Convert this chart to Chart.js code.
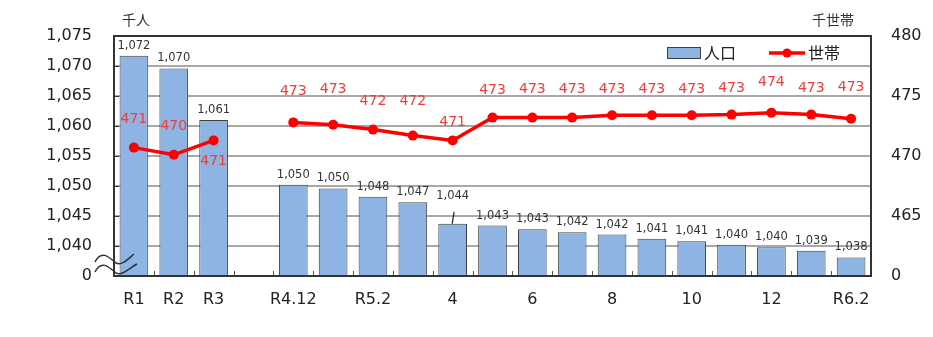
<!DOCTYPE html>
<html>
<head>
<meta charset="utf-8">
<script src="https://cdn.jsdelivr.net/npm/chart.js@4"></script>
<style>
  html, body { margin: 0; padding: 0; background: #fff; }
  canvas { display: block; }
</style>
</head>
<body>
<canvas id="popChart" width="933" height="337"></canvas>
<script>
// --- DATA ---
const categories = ['R1', 'R2', 'R3', '', 'R4.12', 'R5.1', 'R5.2', 'R5.3', 'R5.4', 'R5.5', 'R5.6',
  'R5.7', 'R5.8', 'R5.9', 'R5.10', 'R5.11', 'R5.12', 'R6.1', 'R6.2'];
const tickLabels = ['R1', 'R2', 'R3', '', 'R4.12', '', 'R5.2', '', '4', '', '6', '', '8', '', '10',
  '', '12', '', 'R6.2'];
// 人口 (千人)
const population = [1071.7, 1069.6, 1061.0, null, 1050.2, 1049.6, 1048.2, 1047.3, 1043.7, 1043.4,
  1042.8, 1042.3, 1041.9, 1041.2, 1040.8, 1040.2, 1039.8, 1039.2, 1038.1];
// 世帯 (千世帯)
const households = [470.7, 470.1, 471.3, null, 472.8, 472.6, 472.2, 471.7, 471.3, 473.2, 473.2,
  473.2, 473.4, 473.4, 473.4, 473.45, 473.6, 473.45, 473.1];

// --- STYLE ---
const BAR_FILL = '#8db4e2';
const BAR_EDGE = '#404040';
const LINE_RED = '#ff0000';
const LABEL_RED = '#f03c3c';
const FRAME = '#333333';
const FONT = '"DejaVu Sans", Verdana, sans-serif';
const CJK = '"Noto Sans CJK JP", sans-serif';

// how far (px) each household label sits above its point; negative = below
const lineLabelLift = [28, 28, -21, 0, 31, 35, 28, 34, 18, 27, 28, 28, 26, 26, 26, 26, 30, 26, 31];
// the 1,044 label is pulled up and tied to its bar with a short leader
const leaderIndex = 8;

const fmt = v => Math.round(v).toLocaleString('en-US');

// --- DECORATIONS: frame, ticks, break marks, labels, legend ---
const decorations = {
  id: 'decorations',
  afterDatasetsDraw(chart) {
    const ctx = chart.ctx;
    const { left, right, top, bottom } = chart.chartArea;
    const x = chart.scales.x;
    const y = chart.scales.y;
    const y1 = chart.scales.y1;
    ctx.save();

    // small ticks along the bottom at category boundaries
    ctx.strokeStyle = '#555';
    ctx.lineWidth = 1;
    const step = (right - left) / categories.length;
    for (let i = 1; i < categories.length; i++) {
      const bx = Math.round(left + i * step) + 0.5;
      ctx.beginPath();
      ctx.moveTo(bx, bottom);
      ctx.lineTo(bx, bottom - 5);
      ctx.stroke();
    }
    // inward ticks on the left axis
    ctx.strokeStyle = FRAME;
    for (let v = 1040; v <= 1070; v += 5) {
      const ty = Math.round(y.getPixelForValue(v)) + 0.5;
      ctx.beginPath();
      ctx.moveTo(left, ty);
      ctx.lineTo(left + 5, ty);
      ctx.stroke();
    }

    // frame
    ctx.strokeStyle = FRAME;
    ctx.lineWidth = 2;
    ctx.strokeRect(left, top, right - left, bottom - top);

    // axis break marks
    ctx.strokeStyle = '#333';
    ctx.lineWidth = 1.5;
    const waves = [[bottom - 14, 0], [bottom - 4, 3]];
    waves.forEach(([wy, extra]) => {
      ctx.beginPath();
      ctx.moveTo(left - 19, wy);
      ctx.bezierCurveTo(left - 13, wy - 12, left - 6, wy - 6, left + 2, wy + 1);
      ctx.bezierCurveTo(left + 8, wy + 4, left + 14, wy - 3, left + 20 + extra, wy - 8);
      ctx.stroke();
    });

    // bar value labels
    const barMeta = chart.getDatasetMeta(0);
    ctx.fillStyle = '#333';
    ctx.font = '11.5px ' + FONT;
    ctx.textAlign = 'center';
    ctx.textBaseline = 'middle';
    barMeta.data.forEach((bar, i) => {
      if (population[i] == null) return;
      const lift = i === leaderIndex ? 28 : 10;
      ctx.fillText(fmt(population[i]), bar.x, bar.y - lift);
      if (i === leaderIndex) {
        ctx.strokeStyle = '#222';
        ctx.lineWidth = 1.2;
        ctx.beginPath();
        ctx.moveTo(bar.x + 1.5, bar.y - 12);
        ctx.lineTo(bar.x - 0.5, bar.y);
        ctx.stroke();
      }
    });

    // household value labels
    const lineMeta = chart.getDatasetMeta(1);
    ctx.fillStyle = LABEL_RED;
    ctx.font = '14px ' + FONT;
    lineMeta.data.forEach((pt, i) => {
      if (households[i] == null) return;
      ctx.fillText(fmt(households[i]), pt.x, pt.y - lineLabelLift[i]);
    });

    // legend
    const ly = 53;
    ctx.fillStyle = BAR_FILL;
    ctx.fillRect(667, 47, 34, 12);
    ctx.strokeStyle = BAR_EDGE;
    ctx.lineWidth = 1;
    ctx.strokeRect(667.5, 47.5, 33, 11);
    ctx.fillStyle = '#222';
    ctx.font = '16px ' + CJK;
    ctx.textAlign = 'left';
    ctx.fillText('人口', 704, ly);
    ctx.strokeStyle = LINE_RED;
    ctx.lineWidth = 3.5;
    ctx.beginPath();
    ctx.moveTo(769, ly);
    ctx.lineTo(805, ly);
    ctx.stroke();
    ctx.fillStyle = LINE_RED;
    ctx.beginPath();
    ctx.arc(787, ly, 4.5, 0, Math.PI * 2);
    ctx.fill();
    ctx.fillStyle = '#222';
    ctx.fillText('世帯', 808, ly);

    // unit captions
    ctx.font = '14px ' + CJK;
    ctx.fillStyle = '#333';
    ctx.fillText('千人', 122, 20);
    ctx.fillText('千世帯', 812, 20);

    ctx.restore();
  }
};

// --- CHART ---
const ctx = document.getElementById('popChart').getContext('2d');
new Chart(ctx, {
  data: {
    labels: categories,
    datasets: [
      {
        type: 'bar',
        label: '人口',
        data: population,
        yAxisID: 'y',
        backgroundColor: BAR_FILL,
        borderColor: BAR_EDGE,
        borderWidth: 1,
        barPercentage: 0.72,
        categoryPercentage: 1,
        order: 1
      },
      {
        type: 'line',
        label: '世帯',
        data: households,
        yAxisID: 'y1',
        borderColor: LINE_RED,
        backgroundColor: LINE_RED,
        borderWidth: 3.5,
        pointRadius: 5,
        pointBackgroundColor: LINE_RED,
        pointBorderWidth: 0,
        spanGaps: false,
        tension: 0,
        order: 0
      }
    ]
  },
  options: {
    responsive: false,
    animation: false,
    devicePixelRatio: 1,
    layout: { padding: { top: 36, left: 0, right: 0, bottom: 0 } },
    plugins: {
      legend: { display: false },
      tooltip: { enabled: false }
    },
    scales: {
      x: {
        grid: { display: false, drawTicks: false },
        border: { display: false },
        ticks: {
          autoSkip: false,
          maxRotation: 0,
          padding: 14,
          color: '#222',
          font: { family: FONT, size: 16 },
          callback: (v, i) => tickLabels[i]
        },
        afterFit: s => { s.height = 61; }
      },
      y: {
        position: 'left',
        min: 1035,
        max: 1075,
        grid: { color: '#a8a8a8', lineWidth: 2, drawTicks: false },
        border: { display: false },
        ticks: {
          stepSize: 5,
          padding: 22,
          color: '#222',
          font: { family: FONT, size: 16 },
          callback: v => (v === 1035 ? '0' : fmt(v))
        },
        afterFit: s => { s.width = 114; }
      },
      y1: {
        position: 'right',
        min: 460,
        max: 480,
        grid: { display: false, drawTicks: false },
        border: { display: false },
        ticks: {
          stepSize: 5,
          padding: 20,
          color: '#222',
          font: { family: FONT, size: 16 },
          callback: v => (v === 460 ? '0' : String(v))
        },
        afterFit: s => { s.width = 62; }
      }
    }
  },
  plugins: [decorations]
});
</script>
</body>
</html>
